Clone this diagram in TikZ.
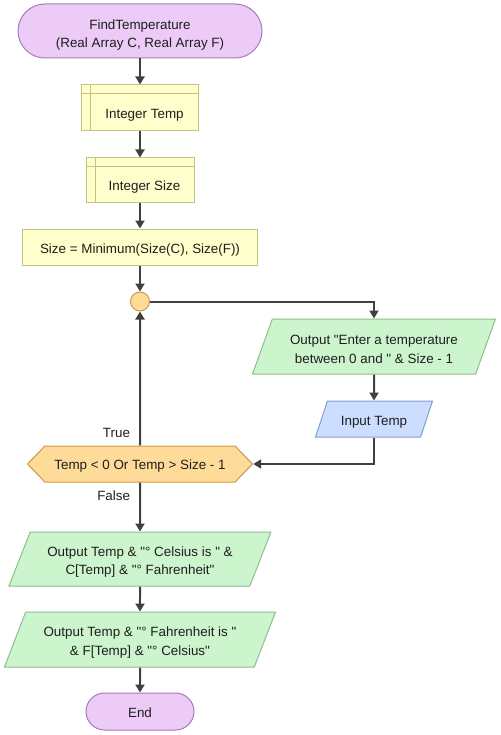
\documentclass[tikz,border=0pt]{standalone}
\usepackage{fontspec}
\setmainfont{Liberation Sans}[Ligatures=TeXOff]
\usepackage{xcolor}
\usetikzlibrary{positioning, arrows.meta, shapes.geometric, shapes.symbols}
\definecolor{ink}{HTML}{1E1E1E}
\definecolor{wire}{HTML}{404040}
\definecolor{termfill}{HTML}{EDCBF7}
\definecolor{termline}{HTML}{A77BB8}
\definecolor{procfill}{HTML}{FFFFCC}
\definecolor{procline}{HTML}{C4C47E}
\definecolor{iofill}{HTML}{CDF5CD}
\definecolor{ioline}{HTML}{8DBE8D}
\definecolor{infill}{HTML}{CCDDFF}
\definecolor{inline}{HTML}{7F9FD0}
\definecolor{condfill}{HTML}{FFDB99}
\definecolor{condline}{HTML}{C99A47}
\tikzset{
    terminal/.style={rectangle, draw=termline, line width=1pt, fill=termfill, align=center, text height=13pt},
    process/.style={rectangle, draw=procline, line width=1pt, fill=procfill, align=center, text height=15pt},
    decl/.style={process, text height=24pt, text depth=3pt,
        execute at begin node={\hspace*{9pt}},
        path picture={\draw[procline, line width=1pt]
            ([xshift=9pt]path picture bounding box.north west) -- ([xshift=9pt]path picture bounding box.south west)
            ([yshift=-9pt]path picture bounding box.north west) -- ([yshift=-9pt]path picture bounding box.north east);}},
    joint/.style={circle, draw=condline, line width=1pt, fill=condfill, minimum size=19pt, inner sep=0pt},
    io/.style={trapezium, trapezium left angle=64, trapezium right angle=116, trapezium stretches body,
        draw=ioline, line width=1pt, fill=iofill, align=center, inner xsep=0pt, text height=34pt},
    inio/.style={io, draw=inline, fill=infill, text height=15pt},
    decision/.style={signal, signal to=west and east, signal pointer angle=92, draw=condline, line width=1pt, fill=condfill, align=center, text height=14pt},
    arrow/.style={-{Triangle[length=8pt, width=9pt]}, wire, line width=2pt},
    tag/.style={text=ink, inner xsep=9pt, inner ysep=7pt}
}
\begin{document}
\begin{tikzpicture}[x=1pt, y=1pt, font=\fontsize{13.4pt}{18.5pt}\selectfont, text=ink]
    \useasboundingbox (0,0) rectangle (500,-735);
    % Start
    \node[terminal, minimum width=244pt, minimum height=54pt, rounded corners=27pt, text height=36pt] (Start) at (140,-31) {FindTemperature\\(Real Array C, Real Array F)};

    % Declarations
    \node[decl, minimum width=117pt, minimum height=46pt, below=26pt of Start] (DeclTemp) {Integer Temp};
    \node[decl, minimum width=108pt, minimum height=45pt, below=26pt of DeclTemp] (DeclSize) {Integer Size};
    \node[process, minimum width=235pt, minimum height=36pt, below=25pt of DeclSize] (SetSize) {Size = Minimum(Size(C), Size(F))};

    % Input loop
    \node[joint, below=26pt of SetSize] (Loop) {};
    \node[io, minimum width=243pt, minimum height=55pt, below=7pt of Loop, xshift=234pt] (Prompt) {Output "Enter a temperature\\between 0 and " \& Size - 1};
    \node[inio, minimum width=117pt, minimum height=36pt, below=26pt of Prompt] (ReadTemp) {Input Temp};
    \node[decision, minimum width=225pt, minimum height=36pt, below=134pt of Loop] (Check) {Temp < 0 Or Temp > Size - 1};

    % Results
    \node[io, minimum width=262pt, minimum height=54pt, below=49pt of Check] (ShowC) {Output Temp \& "° Celsius is " \&\\C[Temp] \& "° Fahrenheit"};
    \node[io, minimum width=271pt, minimum height=55pt, below=25pt of ShowC] (ShowF) {Output Temp \& "° Fahrenheit is "\\\& F[Temp] \& "° Celsius"};
    \node[terminal, minimum width=108pt, minimum height=37pt, rounded corners=18.5pt, below=25pt of ShowF] (End) {End};

    % Connections
    \draw[arrow] (Start) -- (DeclTemp);
    \draw[arrow] (DeclTemp) -- (DeclSize);
    \draw[arrow] (DeclSize) -- (SetSize);
    \draw[arrow] (SetSize) -- (Loop);
    \draw[arrow] (Loop) -| (Prompt);
    \draw[arrow] (Prompt) -- (ReadTemp);
    \draw[arrow] (ReadTemp) |- (Check);
    \draw[arrow] (Check) -- node[tag, pos=0, anchor=south east] {True} (Loop);
    \draw[arrow] (Check) -- node[tag, pos=0, anchor=north east] {False} (ShowC);
    \draw[arrow] (ShowC) -- (ShowF);
    \draw[arrow] (ShowF) -- (End);
\end{tikzpicture}
\end{document}
